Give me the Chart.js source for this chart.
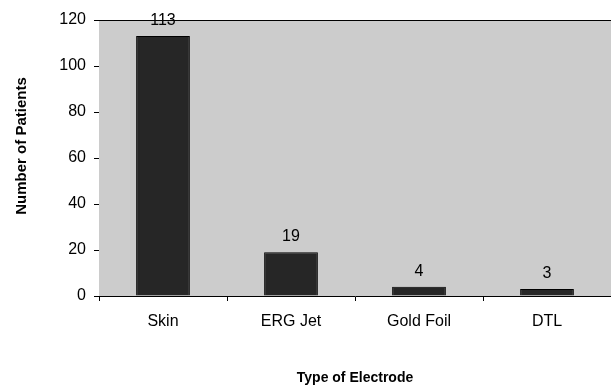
<!DOCTYPE html>
<html>
<head>
<meta charset="utf-8">
<script src="https://cdn.jsdelivr.net/npm/chart.js@4/dist/chart.umd.min.js"></script>
<style>
  html, body { margin: 0; padding: 0; background: #ffffff; }
  #wrap { width: 611px; height: 387px; }
</style>
</head>
<body>
<div id="wrap"><canvas id="c" width="611" height="387"></canvas></div>
<script>
const categories = ["Skin", "ERG Jet", "Gold Foil", "DTL"];
const patients = [113, 19, 4, 3];
const yTicks = [0, 20, 40, 60, 80, 100, 120];
const xTitle = "Type of Electrode";
const yTitle = "Number of Patients";

const FONT = "Arial, 'Liberation Sans', sans-serif";

// Grey plot area with a black frame line across the top
const plotBackground = {
  id: 'plotBackground',
  beforeDatasetsDraw(chart) {
    const { ctx, chartArea: a } = chart;
    ctx.save();
    ctx.fillStyle = '#cccccc';
    ctx.fillRect(a.left, a.top, a.right - a.left, a.bottom - a.top);
    ctx.strokeStyle = '#000000';
    ctx.lineWidth = 1;
    ctx.beginPath();
    ctx.moveTo(a.left, a.top + 0.5);
    ctx.lineTo(a.right, a.top + 0.5);
    ctx.stroke();
    ctx.restore();
  }
};

// Value printed above each bar, plus the rotated value-axis title
const annotations = {
  id: 'annotations',
  afterDatasetsDraw(chart) {
    const { ctx } = chart;
    const meta = chart.getDatasetMeta(0);
    ctx.save();
    ctx.font = '16px ' + FONT;
    ctx.fillStyle = '#000000';
    ctx.textAlign = 'center';
    ctx.textBaseline = 'alphabetic';
    meta.data.forEach((bar, i) => {
      ctx.fillText(String(patients[i]), bar.x, bar.y - 11);
    });
    ctx.restore();

    ctx.save();
    ctx.font = 'bold 15px ' + FONT;
    ctx.fillStyle = '#000000';
    ctx.textAlign = 'center';
    ctx.textBaseline = 'middle';
    ctx.translate(22, 146);
    ctx.rotate(-Math.PI / 2);
    ctx.fillText(yTitle, 0, 0);
    ctx.restore();
  }
};

new Chart(document.getElementById('c'), {
  type: 'bar',
  data: {
    labels: categories,
    datasets: [{
      data: patients,
      backgroundColor: '#262626',
      borderColor: '#000000',
      borderWidth: 1,
      categoryPercentage: 1,
      barPercentage: 0.42
    }]
  },
  options: {
    responsive: false,
    animation: false,
    events: [],
    layout: { padding: { top: 20, right: 0, left: 0, bottom: 0 } },
    plugins: { legend: { display: false }, tooltip: { enabled: false } },
    scales: {
      x: {
        offset: true,
        grid: { offset: true, drawOnChartArea: false, color: '#000000', tickLength: 5, tickWidth: 1 },
        border: { color: '#000000', width: 1 },
        ticks: { color: '#000000', font: { family: FONT, size: 16 }, padding: 11, maxRotation: 0 },
        title: {
          display: true, text: xTitle, color: '#000000',
          font: { family: FONT, size: 14, weight: 'bold' }, padding: { top: 0, bottom: 0 }
        },
        afterFit(s) { s.height = 91; }
      },
      y: {
        min: 0, max: 120,
        afterBuildTicks(s) { s.ticks = yTicks.map(v => ({ value: v })); },
        grid: { drawOnChartArea: false, color: '#000000', tickLength: 5, tickWidth: 1 },
        border: { color: '#000000', width: 1 },
        ticks: { color: '#000000', font: { family: FONT, size: 16 }, padding: 8 },
        afterFit(s) { s.width = 99; }
      }
    }
  },
  plugins: [plotBackground, annotations]
});
</script>
</body>
</html>
